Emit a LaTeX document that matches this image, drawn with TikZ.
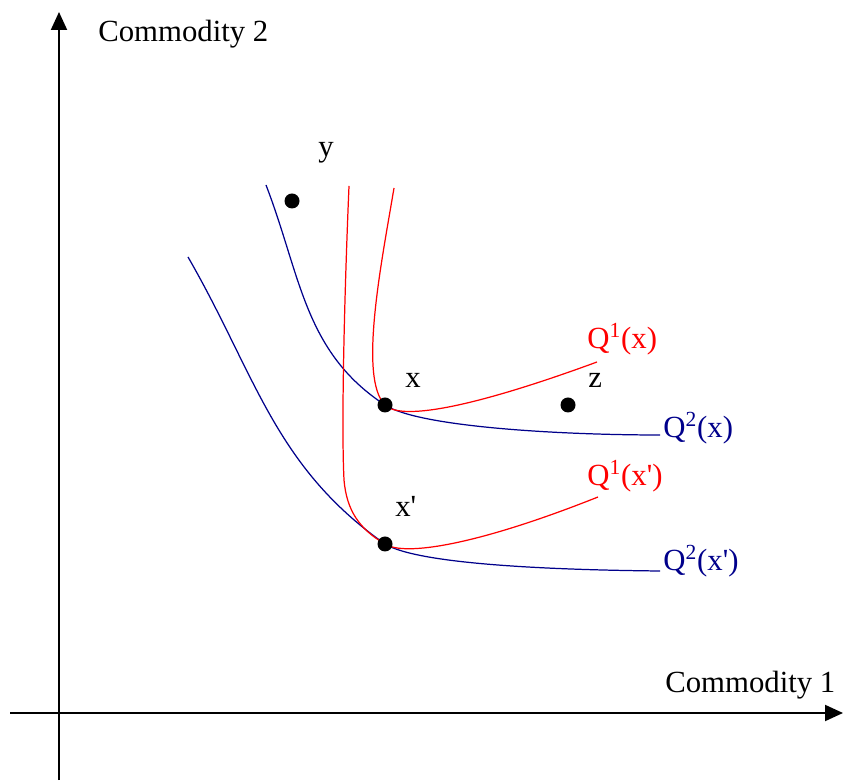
\documentclass[tikz,border=0pt]{standalone}
\usepackage{fontspec}
\setmainfont{Liberation Serif}
\usetikzlibrary{arrows.meta}
\definecolor{qblue}{RGB}{0,0,139}
\begin{document}
\begin{tikzpicture}[x=0.02cm,y=0.02cm,font=\fontsize{17.5}{20}\selectfont,
	lbl/.style={anchor=base west,inner sep=0pt},
	qcurve/.style={line width=0.7pt},
	axis/.style={line width=1.1pt,-{Triangle[length=0.36cm,width=0.32cm]}}]
	\useasboundingbox (0,0) rectangle (844,780);
	\path (59,0) coordinate (O2) (59,768) coordinate (E2)
	(10,67) coordinate (O1) (843,67) coordinate (E1)
	(292,579) coordinate (y) (385,375) coordinate (x)
	(568,375) coordinate (z) (385,236) coordinate (xp);
	\draw[axis] (O2)--(E2);
	\draw[axis] (O1)--(E1);
	\node[lbl] (c2) at (98,738) {Commodity 2};
	\node[lbl] (c1) at (665,87) {Commodity 1};
	% indifference curves
	\draw[qblue,qcurve] (266,595) .. controls (301,504) and (304,428) .. (x)
	.. controls (419,353) and (560,345) .. (660,345);
	\draw[red,qcurve] (394,592) .. controls (382,520) and (358,402) .. (x)
	.. controls (402,358) and (480,375) .. (597,418);
	\draw[qblue,qcurve] (188,523) .. controls (256,405) and (274,314) .. (xp)
	.. controls (419,215) and (560,210) .. (660,209);
	\draw[red,qcurve] (349,594) .. controls (345,500) and (341,360) .. (344,300)
	.. controls (346.6,270) and (359,251) .. (xp)
	.. controls (405,223) and (480,236) .. (598,283);
	\node[lbl,red] (q1x) at (587,431) {Q\textsuperscript{1}(x)};
	\node[lbl,qblue] (q2x) at (663,342) {Q\textsuperscript{2}(x)};
	\node[lbl,red] (q1xp) at (587,294) {Q\textsuperscript{1}(x\textquotesingle)};
	\node[lbl,qblue] (q2xp) at (663,209) {Q\textsuperscript{2}(x\textquotesingle)};
	% bundles
	\foreach \p/\t/\dx/\dy in {y/y/26/44,x/x/20/17,z/z/20/17,xp/x\textquotesingle/10/27}{
		\fill (\p) circle (7.5) node[lbl,shift={(\dx,\dy)}] (l\p) {\t};
	}
\end{tikzpicture}
\end{document}
